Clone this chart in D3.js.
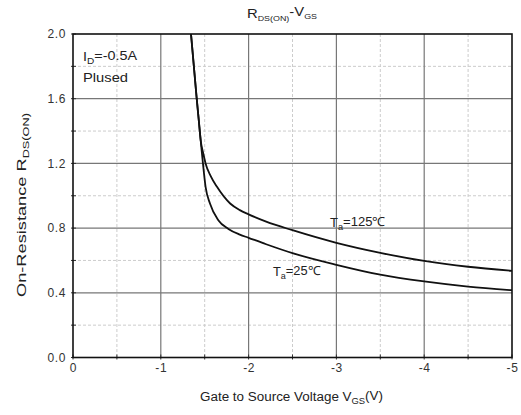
<!DOCTYPE html>
<html><head><meta charset="utf-8">
<script src="https://cdn.jsdelivr.net/npm/d3@7"></script>
<style>body{margin:0;background:#fff;} text{font-family:"Liberation Sans",Arial,sans-serif;fill:#222;}</style>
</head><body><svg id="c" width="521" height="415"></svg>
<script>
const xTicks = [0,-1,-2,-3,-4,-5];
const yTicks = [0.0,0.4,0.8,1.2,1.6,2.0];
const xMinor = [-0.5,-1.5,-2.5,-3.5,-4.5];
const yMinor = [0.2,0.6,1.0,1.4,1.8];
const curve25 = [[-1.344,2.0],[-1.409,1.6],[-1.432,1.47],[-1.458,1.32],[-1.48,1.2],[-1.51,1.055],[-1.56,0.952],[-1.655,0.849],[-1.77,0.795],[-1.9,0.76],[-2.0,0.74],[-2.2,0.70],[-2.5,0.645],[-3.0,0.573],[-3.5,0.512],[-4.0,0.47],[-4.5,0.438],[-5.0,0.416]];
const curve125 = [[-1.344,2.0],[-1.409,1.6],[-1.432,1.47],[-1.455,1.34],[-1.484,1.261],[-1.51,1.2],[-1.57,1.12],[-1.64,1.055],[-1.79,0.952],[-1.9,0.911],[-2.0,0.885],[-2.2,0.84],[-2.5,0.787],[-3.0,0.709],[-3.5,0.647],[-4.0,0.597],[-4.5,0.561],[-5.0,0.536]];

const svg = d3.select("#c");
const L=73,R=512,T=34,B=357.5;
const x = d3.scaleLinear().domain([0,-5]).range([L,R]);
const y = d3.scaleLinear().domain([0,2]).range([B,T]);

// minor grid
svg.append("g").selectAll("line").data(xMinor).join("line")
  .attr("x1",d=>x(d)).attr("x2",d=>x(d)).attr("y1",T).attr("y2",B)
  .attr("stroke","#ccc").attr("stroke-width",1).attr("stroke-dasharray","3,2");
svg.append("g").selectAll("line").data(yMinor).join("line")
  .attr("y1",d=>y(d)).attr("y2",d=>y(d)).attr("x1",L).attr("x2",R)
  .attr("stroke","#ccc").attr("stroke-width",1).attr("stroke-dasharray","3,2");
// major grid
svg.append("g").selectAll("line").data(xTicks.slice(1,-1)).join("line")
  .attr("x1",d=>x(d)).attr("x2",d=>x(d)).attr("y1",T).attr("y2",B)
  .attr("stroke","#777").attr("stroke-width",1.2);
svg.append("g").selectAll("line").data(yTicks.slice(1,-1)).join("line")
  .attr("y1",d=>y(d)).attr("y2",d=>y(d)).attr("x1",L).attr("x2",R)
  .attr("stroke","#777").attr("stroke-width",1.2);

// axes
const xa = svg.append("g").attr("transform",`translate(0,${B})`)
  .call(d3.axisBottom(x).tickValues(xTicks).tickSize(0).tickPadding(6).tickFormat(d=>String(d)));
xa.select(".domain").remove();
xa.selectAll("text").attr("font-size",12).attr("letter-spacing","0.6").style("fill","#333");
const ya = svg.append("g").attr("transform",`translate(${L},0)`)
  .call(d3.axisLeft(y).tickValues(yTicks).tickSize(0).tickPadding(7).tickFormat(d=>d.toFixed(1)));
ya.select(".domain").remove();
ya.selectAll("text").attr("font-size",12).attr("letter-spacing","0.6").style("fill","#333");

// small ticks
svg.append("g").selectAll("line").data(xTicks.concat(xMinor)).join("line")
  .attr("x1",d=>x(d)).attr("x2",d=>x(d)).attr("y1",B-3).attr("y2",B+2).attr("stroke","#333");
svg.append("g").selectAll("line").data(yTicks.concat(yMinor)).join("line")
  .attr("y1",d=>y(d)).attr("y2",d=>y(d)).attr("x1",L-2).attr("x2",L+3).attr("stroke","#333");

// border
svg.append("rect").attr("x",L).attr("y",T).attr("width",R-L).attr("height",B-T)
  .attr("fill","none").attr("stroke","#111").attr("stroke-width",1.6);

// curves
svg.append("clipPath").attr("id","pc").append("rect").attr("x",L).attr("y",T).attr("width",R-L).attr("height",B-T);
const line = d3.line().x(d=>x(d[0])).y(d=>y(d[1])).curve(d3.curveMonotoneX);
[curve25,curve125].forEach(c=>{
  svg.append("path").datum(c).attr("d",line)
    .attr("fill","none").attr("stroke","#111").attr("stroke-width",1.8).attr("clip-path","url(#pc)");
});

// text
function sub(sel, main, s, after){
  sel.append("tspan").text(main);
  sel.append("tspan").attr("font-size","0.7em").attr("dy","0.3em").text(s);
  if(after) sel.append("tspan").attr("dy","-0.3em").text(after);
  return sel;
}
function fit(sel,len){ return sel.attr("textLength",len).attr("lengthAdjust","spacingAndGlyphs"); }

fit(sub(svg.append("text").attr("x",83).attr("y",61).attr("font-size",13), "I","D","=-0.5A"),54);
fit(svg.append("text").attr("x",83).attr("y",81.5).attr("font-size",13).text("Plused"),45);
fit(sub(svg.append("text").attr("x",330).attr("y",227).attr("font-size",12.5), "T","a","=125℃"),55);
fit(sub(svg.append("text").attr("x",273).attr("y",276).attr("font-size",12.5), "T","a","=25℃"),47);

const title = svg.append("text").attr("x",247).attr("y",18).attr("font-size",13);
title.append("tspan").text("R");
title.append("tspan").attr("font-size","0.6em").attr("dy","0.35em").text("DS(ON)");
title.append("tspan").attr("dy","-0.35em").text("-V");
title.append("tspan").attr("font-size","0.6em").attr("dy","0.35em").text("GS");
fit(title,70);

const xl = svg.append("text").attr("x",200).attr("y",401).attr("font-size",12);
fit(sub(xl,"Gate to Source Voltage V","GS","(V)"),183);

const yl = svg.append("text").attr("transform","translate(26,297) rotate(-90)").attr("font-size",13);
fit(sub(yl,"On-Resistance R","DS(ON)"),184);
</script></body></html>
